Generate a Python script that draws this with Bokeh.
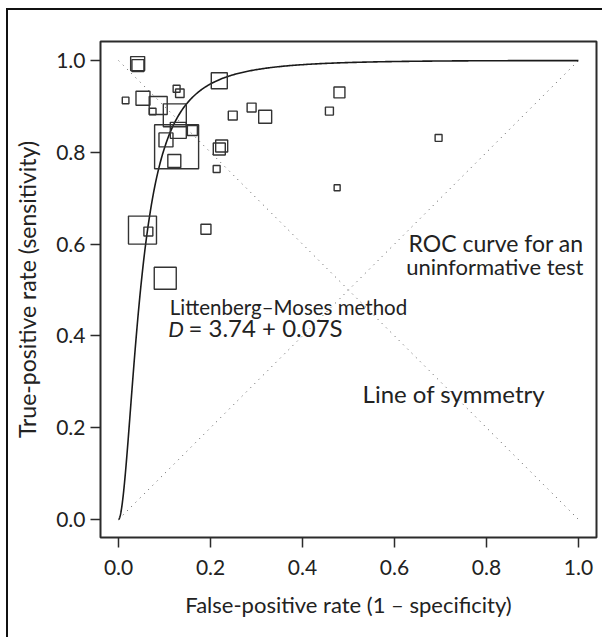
import numpy as np
from bokeh.plotting import figure
from bokeh.models import ColumnDataSource, FixedTicker, NumeralTickFormatter
from bokeh.core.properties import value
from bokeh.embed import file_html
from bokeh.resources import INLINE

# Individual studies: false-positive rate, true-positive rate, study weight
fpr_study = [0.0415, 0.0421, 0.0153, 0.0531, 0.0862, 0.0742, 0.1223, 0.1262,
             0.1332, 0.2190, 0.1262, 0.1299, 0.1605, 0.1031, 0.1212, 0.2483,
             0.2893, 0.3188, 0.2242, 0.2190, 0.2133, 0.4803, 0.4585, 0.4753,
             0.6959, 0.0520, 0.0648, 0.1900, 0.1015]
tpr_study = [0.9934, 0.9891, 0.9131, 0.9180, 0.9020, 0.8890, 0.8807, 0.9387,
             0.9289, 0.9562, 0.8123, 0.8480, 0.8475, 0.8271, 0.7812, 0.8801,
             0.8976, 0.8775, 0.8140, 0.8074, 0.7637, 0.9306, 0.8899, 0.7228,
             0.8315, 0.6306, 0.6274, 0.6324, 0.5256]
weight_study = [49, 36, 11, 49, 81, 11, 132, 12,
                18, 64, 484, 64, 25, 49, 42, 20,
                20, 42, 36, 36, 12, 30, 16, 9,
                12, 196, 20, 25, 121]

# Summary ROC curve in logit space: logit(TPR) = intercept + slope * logit(FPR)
sroc_intercept = 5.45
sroc_slope = 1.82

x_ticks = [0.0, 0.2, 0.4, 0.6, 0.8, 1.0]
y_ticks = [0.0, 0.2, 0.4, 0.6, 0.8, 1.0]

FONT = "Lato"
INK = "#2b2b2b"

# The figure sits inside a page frame drawn on its left and top edges
p = figure(width=596, height=629,
           x_range=(-0.0393, 1.0393), y_range=(-0.0394, 1.0416),
           output_backend="svg", toolbar_location=None,
           min_border_left=92, min_border_right=8,
           min_border_top=31, min_border_bottom=102)
p.styles = {"border-left": "2px solid #111", "border-top": "2px solid #111",
            "margin-left": "6px", "margin-top": "8px"}
p.grid.visible = False
p.outline_line_color = INK
p.outline_line_width = 2
p.background_fill_color = "white"
p.border_fill_color = "white"

for ax in (p.xaxis[0], p.yaxis[0]):
    ax.axis_line_color = None
    ax.major_tick_out = 10
    ax.major_tick_in = 0
    ax.minor_tick_line_color = None
    ax.major_tick_line_color = INK
    ax.major_tick_line_width = 1.5
    ax.major_label_text_font = FONT
    ax.major_label_text_font_size = "21px"
    ax.major_label_text_color = "#222"
    ax.axis_label_text_font = FONT
    ax.axis_label_text_font_style = "normal"
    ax.axis_label_text_color = "#222"
    ax.formatter = NumeralTickFormatter(format="0.0")

p.xaxis.ticker = FixedTicker(ticks=x_ticks)
p.yaxis.ticker = FixedTicker(ticks=y_ticks)
p.xaxis.major_label_standoff = 12
p.yaxis.major_label_standoff = 5
p.xaxis.axis_label = "False-positive rate (1 \u2013 specificity)"
p.yaxis.axis_label = "True-positive rate (sensitivity)"
p.xaxis.axis_label_text_font_size = "22px"
p.yaxis.axis_label_text_font_size = "23px"
p.xaxis.axis_label_standoff = 13
p.yaxis.axis_label_standoff = 12

# Reference diagonals
p.line([0, 1], [0, 1], line_color="#555", line_width=1, line_dash="1 5")
p.line([0, 1], [1, 0], line_color="#555", line_width=1, line_dash="1 5")

# Summary ROC curve
f = np.concatenate([np.geomspace(1e-6, 0.05, 300), np.linspace(0.05, 1 - 1e-9, 400)[1:]])
lt = sroc_intercept + sroc_slope * np.log(f / (1 - f))
t = 1 / (1 + np.exp(-lt))
p.line(np.concatenate([[0.0], f, [1.0]]), np.concatenate([[0.0], t, [1.0]]),
       line_color="#1a1a1a", line_width=1.6)

# Studies, square side proportional to sqrt(weight)
src = ColumnDataSource(dict(x=fpr_study, y=tpr_study,
                            s=[2.0 * np.sqrt(w) for w in weight_study]))
p.scatter("x", "y", size="s", source=src, marker="square",
          fill_color=None, line_color="#333", line_width=1.4)

# Annotations
def note(x, y, s, size, **kw):
    p.text([x], [y], text=[s], text_font=value(FONT), text_font_size=size,
           text_color="#222", **kw)

note(1.011, 0.571, "ROC curve for an", "23px", text_align="right")
note(1.011, 0.521, "uninformative test", "22px", text_align="right")
note(0.5306, 0.2436, "Line of symmetry", "24px")
note(0.1114, 0.437, "Littenberg\u2013Moses method", "20.5px")
note(0.108, 0.3858, "D", "22px", text_font_style="italic")
note(0.152, 0.3858, "= 3.74 + 0.07S", "24px")

open("out.html", "w").write(file_html(p, INLINE))
